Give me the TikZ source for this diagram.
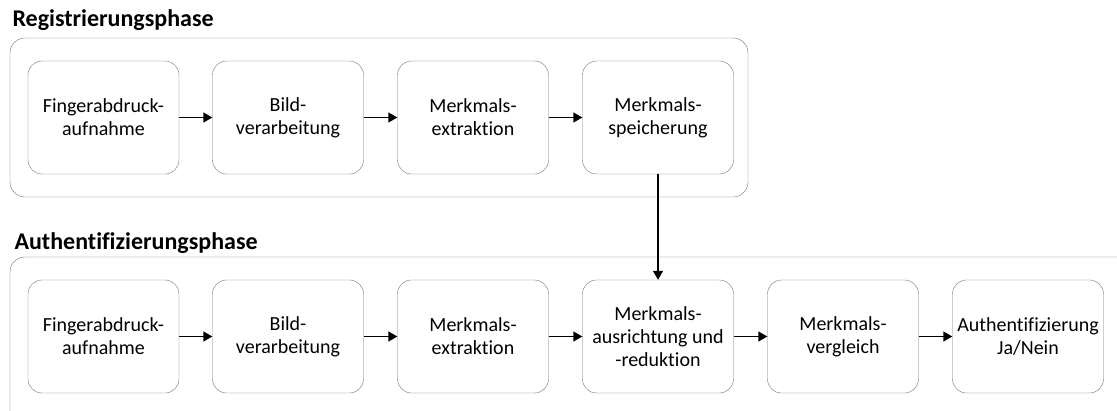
\documentclass[tikz,border=0pt]{standalone}
\usepackage{fontspec}
\setmainfont{Carlito}[RawFeature=-liga]
\usetikzlibrary{arrows.meta}
\tikzset{
  stufe/.style={draw=black!55, rounded corners=14pt, minimum width=151pt, minimum height=113pt,
    align=center, font=\fontsize{20}{23}\selectfont, inner sep=2pt},
  phase/.style={draw=black!55, rounded corners=15pt},
  titel/.style={anchor=west, font=\fontsize{24}{27}\selectfont\bfseries},
  pfeil/.style={-{Triangle[length=9pt,width=10pt]}, line width=1.4pt}
}
\begin{document}
\begin{tikzpicture}[x=1pt,y=-1pt]
\useasboundingbox (0,0) rectangle (1117,410);
\clip (0,0) rectangle (1117,410);
\draw[phase](10,38) rectangle (748,197);
\draw[phase](10,257) rectangle (1135,430);
\node[titel] (t1) at (9,20) {Registrierungsphase};
\node[titel] (t2) at (11,243) {Authentifizierungsphase};
% Registrierung
\foreach \n/\x/\t in {r1/103.5/Fingerabdruck-\\aufnahme, r2/288/Bild-\\verarbeitung,
  r3/473/Merkmals-\\extraktion, r4/658/Merkmals-\\speicherung}
{
    \node[stufe] (\n) at (\x,117.5) {\t};
}
% Authentifizierung
\foreach \n/\x/\t in {a1/103.5/Fingerabdruck-\\aufnahme, a2/288/Bild-\\verarbeitung,
  a3/473/Merkmals-\\extraktion, a4/658/Merkmals-\\ausrichtung und\\-reduktion,
  a5/843/Merkmals-\\vergleich, a6/1028/{Authentifizierung\\Ja/Nein}}
{
    \node[stufe] (\n) at (\x,336.5) {\t};
}
\foreach \a/\b in {r1/r2,r2/r3,r3/r4,a1/a2,a2/a3,a3/a4,a4/a5,a5/a6}
{
    \draw[pfeil](\a)--(\b);
}
\draw[pfeil](r4)--(a4);
\end{tikzpicture}
\end{document}
